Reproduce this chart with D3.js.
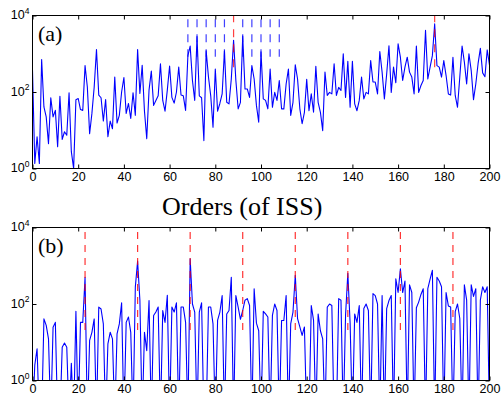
<!DOCTYPE html>
<html>
<head>
<meta charset="utf-8">
<script src="https://cdn.jsdelivr.net/npm/d3@7"></script>
<style>
body { margin: 0; background: #fff; }
svg { display: block; }
.tick text { font-family: "Liberation Sans", Arial, sans-serif; font-size: 12.5px; fill: #000; }
.tick line { stroke: #000; }
</style>
</head>
<body>
<script>
// log10 of the amplitude at each order (-1 = below the axis)
var issA = [2.57,0.13,0.83,0.13,2.85,1.61,1.35,0.65,1.85,1.35,
  1.52,0.57,1.89,0.76,0.96,0.87,1.98,0.44,0.0,1.8,
  1.83,1.54,1.52,2.69,2.13,0.91,1.44,2.13,3.11,1.92,
  1.85,1.24,1.8,0.83,1.24,1.04,2.39,1.19,1.39,2.0,
  2.38,1.44,1.7,1.31,1.98,1.39,3.11,1.96,2.7,1.5,
  0.78,2.05,2.55,1.65,1.78,1.9,2.74,1.78,1.5,2.05,
  2.68,1.86,1.71,2.0,2.65,1.92,1.9,1.52,2.95,3.2,
  2.3,1.78,3.45,1.9,1.85,0.73,3.08,2.4,1.9,1.08,
  2.6,1.5,1.7,1.95,3.08,1.73,1.69,2.34,3.35,2.3,
  1.56,1.73,3.46,2.08,2.08,1.86,2.69,2.34,1.65,1.21,
  3.05,1.82,1.78,1.56,2.6,1.6,1.99,1.78,2.3,1.56,
  1.56,2.21,2.6,1.39,1.73,2.71,2.34,1.56,1.17,1.47,
  2.33,1.51,1.95,1.47,2.67,1.73,1.47,0.99,2.52,1.91,
  1.99,1.95,2.74,1.91,2.12,2.04,3.0,1.86,2.8,1.6,
  2.8,1.69,1.51,1.78,2.39,1.82,1.99,1.95,2.82,2.26,
  2.26,1.95,3.06,2.52,1.82,2.47,3.21,1.99,2.65,2.24,
  3.26,2.91,2.3,2.65,2.91,2.52,2.39,1.95,3.2,1.99,
  2.17,2.3,3.61,2.34,2.65,2.95,3.78,2.69,2.65,2.39,
  2.82,2.43,1.95,1.92,2.91,1.91,1.6,2.39,3.2,2.78,
  2.21,3.0,2.56,1.8,2.21,2.74,3.14,2.5,2.4,3.1,
  2.7];

var issB = [-1,0.4,0.83,-1,-1,1.61,1.44,1.09,-1,1.39,
  1.52,-1,-1,0.87,0.98,0.87,-1,0.45,-1,1.81,
  -1,1.52,1.52,2.7,-1,1.05,1.26,1.61,-1,1.92,
  1.87,1.48,-1,0.96,1.26,1.09,-1,1.22,1.48,2.03,
  -1,1.52,1.66,1.26,-1,2.44,3.12,2.1,-1,1.26,
  0.78,2.09,-1,1.7,1.79,1.92,-1,1.83,1.52,2.23,
  -1,1.92,1.79,2.03,-1,1.92,1.92,1.52,-1,3.18,
  2.0,1.79,-1,1.79,2.03,-1,-1,1.92,1.92,1.48,
  -1,1.57,1.79,2.22,-1,1.74,1.83,2.7,-1,2.22,
  1.92,1.6,1.83,2.1,2.14,1.96,-1,2.4,1.5,1.3,
  -1,1.81,1.74,1.66,-1,1.7,2.0,1.83,-1,1.57,
  1.57,2.22,-1,1.48,1.79,2.75,1.62,1.4,1.18,1.4,
  -1,-1,1.96,1.57,-1,1.74,1.3,1.09,-1,1.92,
  2.0,1.96,-1,-1,2.14,2.1,-1,1.7,2.8,1.5,
  -1,1.74,1.52,1.96,-1,1.88,2.0,1.83,-1,2.27,
  2.22,2.0,-1,2.22,-1,1.88,2.09,2.22,-1,2.66,
  2.3,2.92,2.3,2.6,-1,2.5,2.3,-1,1.9,2.05,
  2.25,2.4,-1,2.4,2.65,2.88,-1,2.7,2.6,2.45,
  -1,2.3,1.95,1.92,-1,1.8,2.0,1.62,-1,2.5,
  2.1,-1,2.5,2.2,2.4,-1,2.1,2.45,2.3,2.45,
  -1];

var xTicks = [0,20,40,60,80,100,120,140,160,180,200];
var yTicks = [1,100,10000];

// marked orders
var blueMarksA = [68,72,76,80,84,92,96,100,104,108];
var redMarksA = [88,176];
var redMarksB = [23,46,69,92,115,138,161,184];

var width = 502,
    height = 398;

var svg = d3.select("body").append("svg")
    .attr("width", width)
    .attr("height", height);

var x = d3.scaleLinear().domain([0, 200]).range([32.5, 489.5]);

function panel(data, top, bottom, label, marks, id) {
  var y = d3.scaleLog().domain([1, 1e4]).range([bottom, top]);
  var g = svg.append("g");

  g.append("clipPath").attr("id", id)
    .append("rect")
      .attr("x", x(0)).attr("y", top)
      .attr("width", x(200) - x(0)).attr("height", bottom - top);

  var line = d3.line()
    .x(function(d, i) { return x(i); })
    .y(function(d) { return y(Math.pow(10, d)); });

  g.append("path")
    .datum(data)
    .attr("clip-path", "url(#" + id + ")")
    .attr("fill", "none")
    .attr("stroke", "#0000ff")
    .attr("stroke-width", 1.1)
    .attr("stroke-linejoin", "round")
    .attr("d", line);

  marks.forEach(function(m) {
    g.selectAll(null)
      .data(m.at)
      .enter().append("line")
        .attr("x1", function(d) { return x(d); })
        .attr("x2", function(d) { return x(d); })
        .attr("y1", y(Math.pow(10, m.from)))
        .attr("y2", y(Math.pow(10, m.to)))
        .attr("stroke", m.color)
        .attr("stroke-opacity", m.opacity)
        .attr("stroke-width", 1.2)
        .attr("stroke-dasharray", m.dash);
  });

  // ticks on all four sides, pointing in
  g.append("g")
    .attr("transform", "translate(0," + bottom + ")")
    .call(d3.axisBottom(x).tickValues(xTicks).tickSize(-4).tickSizeOuter(0).tickPadding(4))
    .call(function(a) { a.select(".domain").remove(); });
  g.append("g")
    .attr("transform", "translate(0," + top + ")")
    .call(d3.axisTop(x).tickValues(xTicks).tickSize(-4).tickSizeOuter(0).tickFormat(""))
    .call(function(a) { a.select(".domain").remove(); });

  var left = g.append("g")
    .attr("transform", "translate(" + x(0) + ",0)")
    .call(d3.axisLeft(y).tickValues(yTicks).tickSize(-4).tickSizeOuter(0).tickPadding(3))
    .call(function(a) { a.select(".domain").remove(); });
  left.selectAll(".tick text")
    .attr("dy", "0.26em")
    .text(null)
    .each(function(d) {
      var t = d3.select(this);
      t.append("tspan").text("10");
      t.append("tspan").attr("dy", -5.5).style("font-size", "8.5px").text(Math.round(Math.log10(d)));
    });
  g.append("g")
    .attr("transform", "translate(" + x(200) + ",0)")
    .call(d3.axisRight(y).tickValues(yTicks).tickSize(-4).tickSizeOuter(0).tickFormat(""))
    .call(function(a) { a.select(".domain").remove(); });

  g.append("rect")
    .attr("x", x(0)).attr("y", top)
    .attr("width", x(200) - x(0)).attr("height", bottom - top)
    .attr("fill", "none")
    .attr("stroke", "#000")
    .attr("stroke-width", 1);

  g.append("text")
    .attr("x", 38)
    .attr("y", top + 25)
    .style("font-family", "'Liberation Serif', 'Times New Roman', serif")
    .style("font-size", "22px")
    .text(label);
}

panel(issA, 15.5, 168.5, "(a)", [
  { at: blueMarksA, from: 3.9, to: 2.92, color: "#0000ff", opacity: 0.75, dash: "8,7" },
  { at: redMarksA, from: 2.65, to: 4, color: "#ff0000", opacity: 0.75, dash: "8,7" }
], "clipA");

panel(issB, 227.5, 380.5, "(b)", [
  { at: redMarksB, from: 3.88, to: 1.24, color: "#ff0000", opacity: 0.8, dash: "7,6" }
], "clipB");

svg.append("text")
  .attr("x", 162)
  .attr("y", 215)
  .style("font-family", "'Liberation Serif', 'Times New Roman', serif")
  .style("font-size", "26px")
  .text("Orders (of ISS)");
</script>
</body>
</html>
